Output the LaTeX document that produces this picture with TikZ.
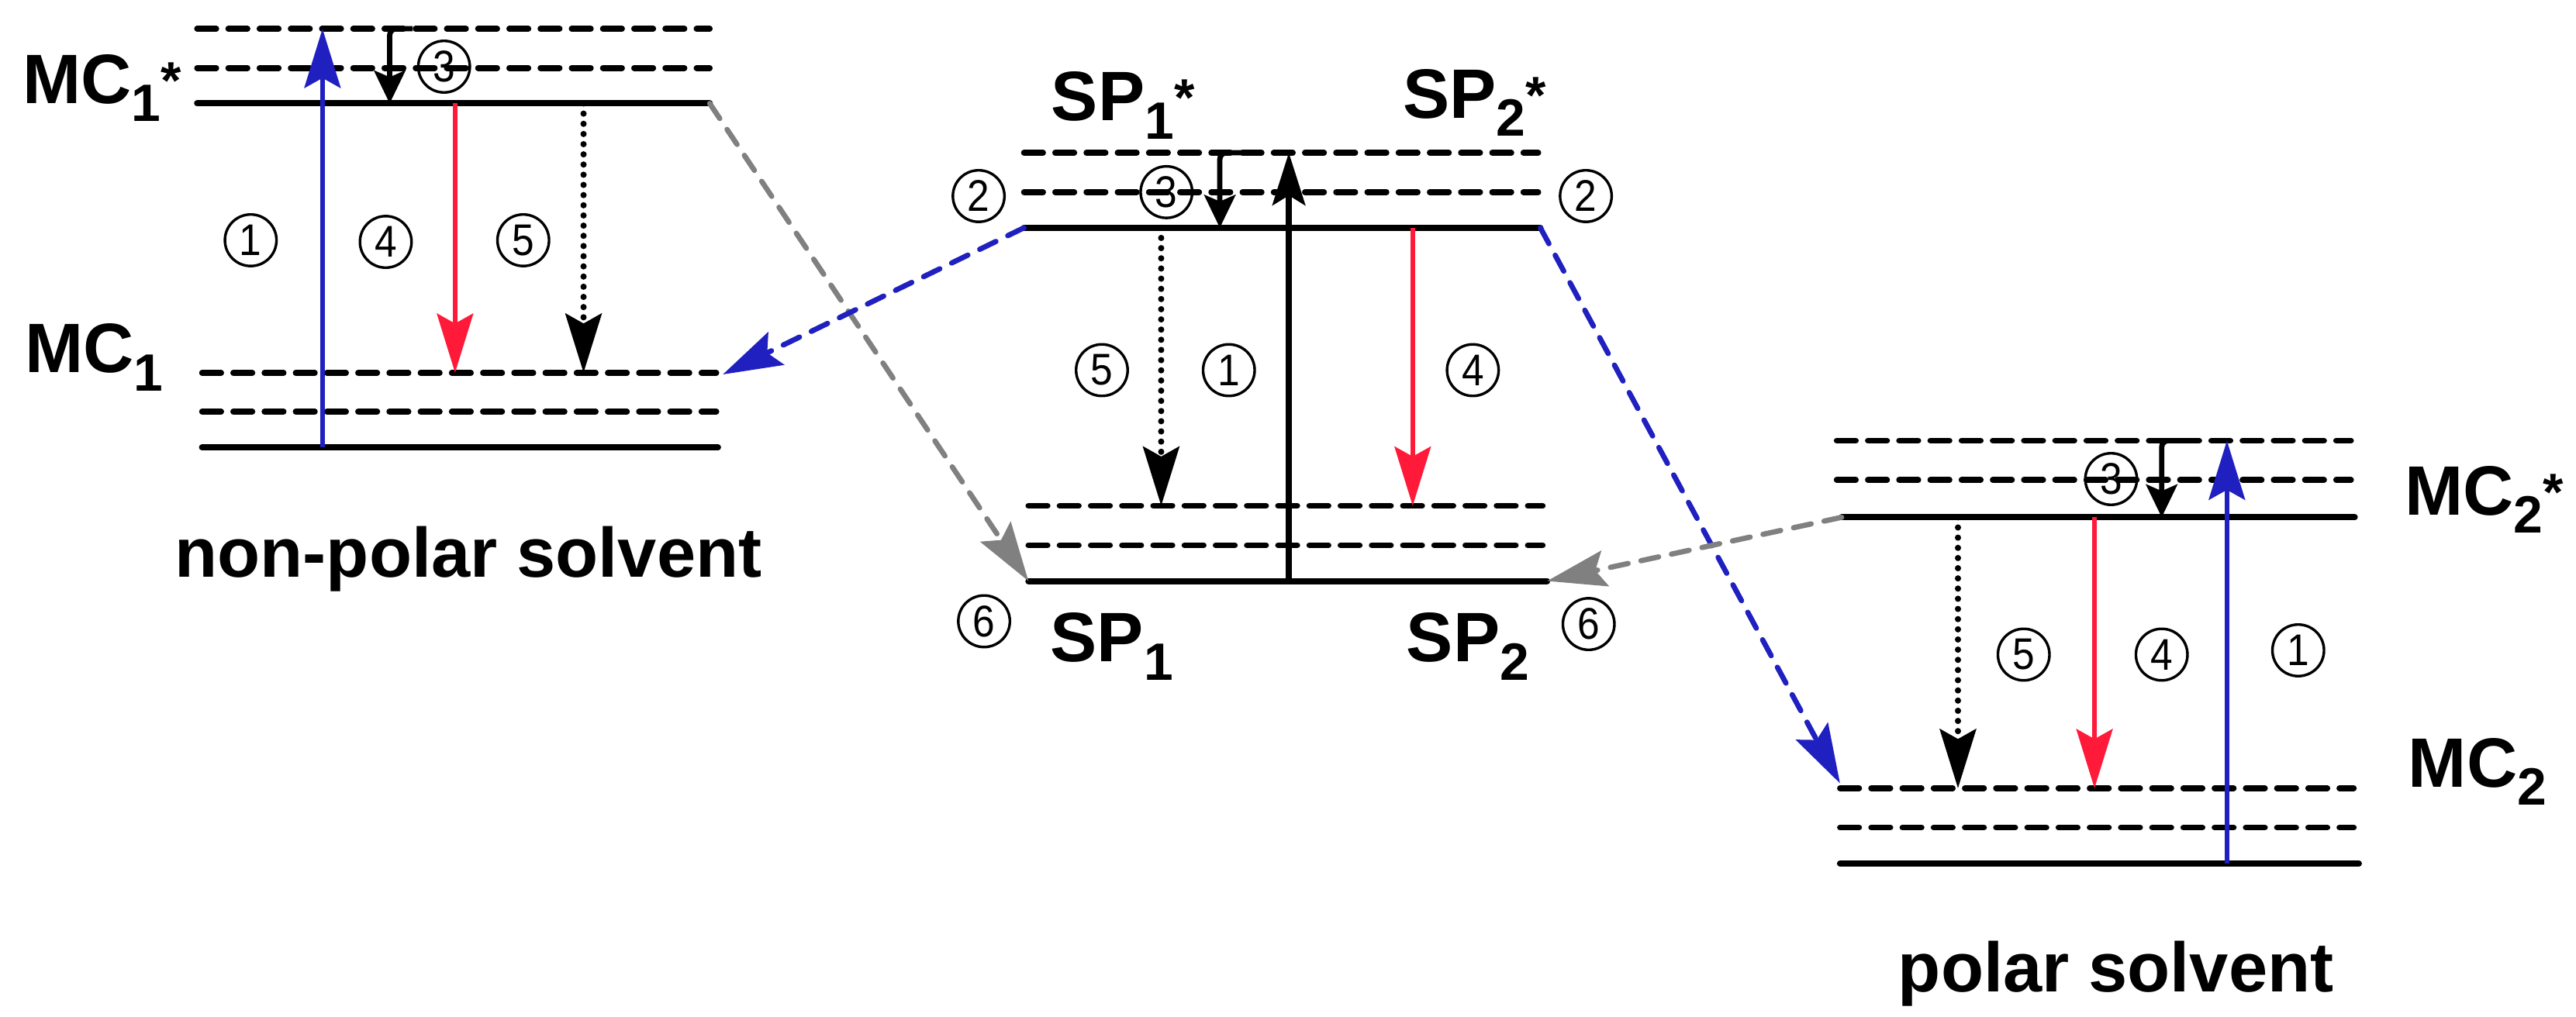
\documentclass[tikz,border=0pt]{standalone}
\usepackage{fontspec}
\setmainfont{Liberation Sans}
\usetikzlibrary{arrows.meta}
\definecolor{tblue}{RGB}{32,32,192}
\definecolor{tred}{RGB}{255,26,58}
\definecolor{tgray}{RGB}{128,128,128}
\newcommand{\cdig}[1]{\scalebox{0.9}[1]{#1}}
\newcommand{\stlab}[3]{#1\raisebox{-5.5pt}{\fontsize{16}{16}\selectfont #2}#3}
\newcommand{\stast}{\raisebox{1.5pt}{\fontsize{16}{16}\selectfont *}}
\begin{document}
\begin{tikzpicture}[x=0.5pt,y=-0.5pt,
  lvl/.style={line width=1.9pt, line cap=round},
  lvld/.style={line width=1.8pt, line cap=round, dash pattern=on 5.8pt off 3.7pt},
  tr/.style={-{Stealth[length=18pt,width=11pt,inset=3pt]}, line width=1.5pt},
  relax/.style={-{Stealth[length=10pt,width=9.5pt,inset=2pt]}, line width=1.6pt, rounded corners=2pt},
  dots/.style={-{Stealth[length=18pt,width=11pt,inset=3pt]}, line width=1.9pt, line cap=round, dash pattern=on 0pt off 3.1pt},
  conn/.style={line width=1.6pt, line cap=round, dash pattern=on 5.5pt off 4pt, -{Stealth[length=18pt,width=11pt,inset=3pt]}},
  cnum/.style={circle, draw, line width=0.8pt, minimum size=15.7pt, inner sep=0pt, font=\fontsize{13.5}{14}\selectfont},
  lab/.style={inner sep=0pt, anchor=base west, font=\fontsize{21.3}{24}\selectfont\bfseries}]
\useasboundingbox (0,0) rectangle (1568,619);
\fill[white] (0,0) rectangle (1568,619);

% ---------- left block (MC1) ----------
\coordinate (L1a) at (120,17.5);  \coordinate (L1b) at (432,17.5);
\coordinate (L2a) at (120,41.4);  \coordinate (L2b) at (432,41.4);
\coordinate (LEa) at (120,63);    \coordinate (LEb) at (432,63);
\coordinate (L3a) at (123,227);   \coordinate (L3b) at (436,227);
\coordinate (L4a) at (123,250.6); \coordinate (L4b) at (436,250.6);
\coordinate (LGa) at (123,272.5); \coordinate (LGb) at (437,272.5);
\draw[lvld] (L1a) -- (L1b);
\draw[lvld] (L2a) -- (L2b);
\draw[lvl]  (LEa) -- (LEb);
\draw[lvld] (L3a) -- (L3b);
\draw[lvld] (L4a) -- (L4b);
\draw[lvl]  (LGa) -- (LGb);
\coordinate (Lb0) at (196.3,272.5); \coordinate (Lb1) at (196.3,17.5);
\coordinate (Lr0) at (237.2,17.5);  \coordinate (Lr1) at (237.2,63);
\coordinate (Lf0) at (277,63);      \coordinate (Lf1) at (277,227);
\coordinate (Ld0) at (355.2,63);    \coordinate (Ld1) at (355.2,227);
\draw[tr, tblue] (Lb0) -- (Lb1);
\draw[relax] ([xshift=7pt]Lr0) -- (Lr0) -- (Lr1);
\draw[tr, tred] (Lf0) -- (Lf1);
\draw[dots] (Ld0) -- (Ld1);
\node[cnum] (Lc3) at (270.3,40.6) {\cdig{3}};
\node[cnum] (Lc1) at (152.6,146.3) {\cdig{1}};
\node[cnum] (Lc4) at (234.8,147.3) {\cdig{4}};
\node[cnum] (Lc5) at (318.5,146.3) {\cdig{5}};
\node[lab] (MC1s) at (13.5,63) {\stlab{MC}{1}{\stast}};
\node[lab] (MC1) at (15,227) {\stlab{MC}{1}{}};
\node[lab] (np) at (106,351.5) {non-polar solvent};

% ---------- middle block (SP) ----------
\coordinate (M1a) at (623.3,93);   \coordinate (M1b) at (936.3,93);
\coordinate (M2a) at (623.3,117);  \coordinate (M2b) at (936.3,117);
\coordinate (MEa) at (623.3,138.7);\coordinate (MEb) at (937.6,138.7);
\coordinate (M3a) at (626,308);    \coordinate (M3b) at (939,308);
\coordinate (M4a) at (626,332);    \coordinate (M4b) at (939,332);
\coordinate (MGa) at (626,353.8);  \coordinate (MGb) at (941.7,353.8);
\draw[lvld] (M1a) -- (M1b);
\draw[lvld] (M2a) -- (M2b);
\draw[lvl]  (MEa) -- (MEb);
\draw[lvld] (M3a) -- (M3b);
\draw[lvld] (M4a) -- (M4b);
\draw[lvl]  (MGa) -- (MGb);
\coordinate (Mb0) at (784.5,353.8); \coordinate (Mb1) at (784.5,93);
\coordinate (Mr0) at (742.5,93);    \coordinate (Mr1) at (742.5,138.7);
\coordinate (Md0) at (706.8,138.7); \coordinate (Md1) at (706.8,308);
\coordinate (Mf0) at (859.9,138.7); \coordinate (Mf1) at (859.9,308);
\draw[-{Stealth[length=16pt,width=10pt,inset=3pt]}, line width=1.7pt] (Mb0) -- (Mb1);
\draw[relax] ([xshift=7pt]Mr0) -- (Mr0) -- (Mr1);
\draw[dots] (Md0) -- (Md1);
\draw[tr, tred] (Mf0) -- (Mf1);
\node[cnum] (Mc3) at (710,117) {\cdig{3}};
\node[cnum] (Mc2a) at (595.7,119.4) {\cdig{2}};
\node[cnum] (Mc2b) at (965.3,119.4) {\cdig{2}};
\node[cnum] (Mc5) at (670.7,225.4) {\cdig{5}};
\node[cnum] (Mc1) at (748,225.4) {\cdig{1}};
\node[cnum] (Mc4) at (896.5,225.4) {\cdig{4}};
\node[cnum] (Mc6a) at (599,378.3) {\cdig{6}};
\node[cnum] (Mc6b) at (967,380) {\cdig{6}};
\node[lab] (SP1s) at (639.6,73.5) {\stlab{SP}{1}{\stast}};
\node[lab] (SP2s) at (853.6,72) {\stlab{SP}{2}{\stast}};
\node[lab] (SP1) at (639,403) {\stlab{SP}{1}{}};
\node[lab] (SP2) at (855.8,403) {\stlab{SP}{2}{}};

% ---------- right block (MC2) ----------
\coordinate (R1a) at (1118,268.3); \coordinate (R1b) at (1431,268.3);
\coordinate (R2a) at (1118,292.2); \coordinate (R2b) at (1431,292.2);
\coordinate (REa) at (1121,315);   \coordinate (REb) at (1433.3,315);
\coordinate (R3a) at (1120,480);   \coordinate (R3b) at (1432.7,480);
\coordinate (R4a) at (1120,503.9); \coordinate (R4b) at (1432.7,503.9);
\coordinate (RGa) at (1120,525.9); \coordinate (RGb) at (1435.8,525.9);
\draw[lvld] (R1a) -- (R1b);
\draw[lvld] (R2a) -- (R2b);
\draw[lvl]  (REa) -- (REb);
\draw[lvld] (R3a) -- (R3b);
\draw[lvld] (R4a) -- (R4b);
\draw[lvl]  (RGa) -- (RGb);
\coordinate (Rb0) at (1355.5,525.9); \coordinate (Rb1) at (1355.5,268.3);
\coordinate (Rr0) at (1315.8,268.3); \coordinate (Rr1) at (1315.8,315);
\coordinate (Rd0) at (1191.8,315);   \coordinate (Rd1) at (1191.8,480);
\coordinate (Rf0) at (1274.9,315);   \coordinate (Rf1) at (1274.9,480);
\draw[tr, tblue] (Rb0) -- (Rb1);
\draw[relax] ([xshift=7pt]Rr0) -- (Rr0) -- (Rr1);
\draw[dots] (Rd0) -- (Rd1);
\draw[tr, tred] (Rf0) -- (Rf1);
\node[cnum] (Rc3) at (1285,291.7) {\cdig{3}};
\node[cnum] (Rc5) at (1231.8,398.6) {\cdig{5}};
\node[cnum] (Rc4) at (1315.8,398.6) {\cdig{4}};
\node[cnum] (Rc1) at (1398.9,396) {\cdig{1}};
\node[lab] (MC2s) at (1463.5,313.7) {\stlab{MC}{2}{\stast}};
\node[lab] (MC2) at (1465.6,479.2) {\stlab{MC}{2}{}};
\node[lab] (pol) at (1155,604) {polar solvent};

% ---------- connectors between blocks ----------
\coordinate (L3t) at (440,228);
\coordinate (R3t) at (1120,477);
\draw[conn, tgray] (LEb) -- (MGa);
\draw[conn, tblue] (MEa) -- (L3t);
\draw[conn, tblue] (MEb) -- (R3t);
\draw[conn, tgray] (REa) -- (MGb);
\end{tikzpicture}
\end{document}
